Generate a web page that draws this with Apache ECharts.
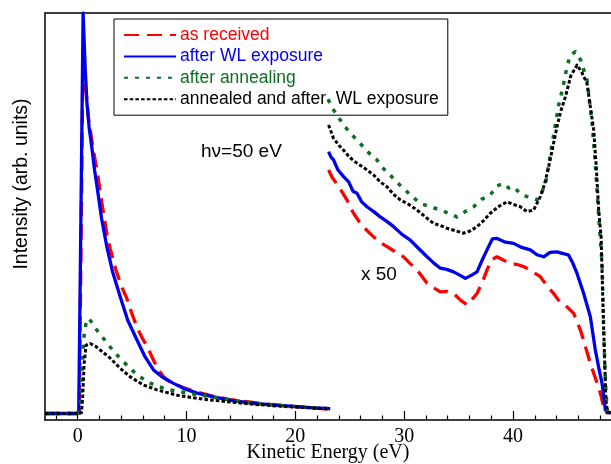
<!DOCTYPE html>
<html><head><meta charset="utf-8">
<script src="https://cdn.jsdelivr.net/npm/echarts@6/dist/echarts.min.js"></script>
<style>html,body{margin:0;padding:0;background:#fff}#c{width:611px;height:464px}</style>
</head><body><div id="c"></div>
<script>
// ---- data (energy eV, intensity arb. units; right-hand parts are the "x 50" magnified traces) ----
const majorTicks = [0, 10, 20, 30, 40];
const minorTicks = [-2, 2, 4, 6, 8, 12, 14, 16, 18, 22, 24, 26, 28, 32, 34, 36, 38, 42, 44, 46, 48];
const names = ['as received', 'after WL exposure', 'after annealing', 'annealed and after  WL exposure'];

const asReceived = [[-3,1.6],[0.0,1.6],[0.15,2.5],[0.3,40],[0.45,80],[0.55,86],[0.7,83],[1.0,74],[1.4,67],[1.8,61],[2.3,52],[2.7,45.5],[3.0,42],[3.5,37],[4.0,33],[4.5,30],[5.0,26],[5.5,22.5],[6.0,19.8],[6.4,18],[7.0,14.5],[7.5,12],[7.9,10.6],[8.5,9.3],[9.7,8.0],[11,6.8],[12.5,5.8],[14,5.0],[15.5,4.5],[17,4.0],[18.5,3.6],[20,3.3],[21.5,3.0],[23.2,2.6]];
const asReceivedX50 = [[23.05,61.4],[23.4,59.5],[23.8,58.1],[24.3,56],[24.74,54.1],[25.3,51],[25.97,48.3],[26.6,46.5],[27.19,45.0],[27.8,43.6],[28.42,42.6],[29.2,41.3],[29.94,40.1],[30.6,38.3],[31.18,36.9],[32.1,33.6],[32.7,32.5],[33.32,31.5],[33.9,31.6],[34.54,31.1],[35.2,29.4],[35.77,28.3],[36.2,29.5],[36.69,31.1],[37.2,34],[37.61,36.9],[38.1,39.5],[38.53,40.1],[39.1,39.3],[39.75,38.5],[40.4,38.2],[40.97,37.7],[41.7,36.6],[42.51,35.2],[43.1,33],[43.73,31.1],[44.3,29],[44.96,27.8],[45.57,26.2],[46.19,22.1],[46.6,18.5],[47.1,13.9],[47.6,10],[48.02,6.6],[48.39,2.5],[48.6,1.8],[49,1.8]];

const afterWL = [[-3,1.6],[0.0,1.6],[0.1,2.2],[0.3,50],[0.5,100],[0.7,86],[0.85,78],[1.05,72],[1.3,67],[1.55,61.5],[1.8,57],[2.2,49.5],[2.68,42.6],[3.2,36.5],[3.91,30.3],[4.6,24.5],[5.44,19.7],[6.2,15.5],[6.97,12.3],[7.8,10.5],[8.81,9.0],[9.8,7.7],[10.96,6.6],[12.5,5.7],[14.02,4.9],[15.5,4.3],[17.08,3.9],[18.6,3.6],[20.15,3.3],[21.7,3.0],[23.2,2.8]];
const afterWLX50 = [[23.05,65.9],[23.3,64.5],[23.51,63.9],[23.9,61.5],[24.43,59.8],[24.9,58.5],[25.3,56.2],[25.66,55.7],[26.1,53.6],[26.58,52.4],[27.2,51.2],[27.8,49.9],[28.4,48.8],[29.03,47.5],[29.8,45.6],[30.56,44.2],[31.3,42.2],[32.1,40.1],[32.7,38.6],[33.32,37.3],[33.9,37.0],[34.54,36.4],[35.1,35.6],[35.62,34.8],[36.2,35.6],[36.69,36.4],[37.2,39.5],[37.61,41.8],[38.1,44.5],[38.53,44.6],[39.3,43.7],[40.06,43.4],[40.8,42.4],[41.59,41.8],[42.2,40.6],[42.81,40.1],[43.4,41.2],[44.04,41.3],[44.6,40.9],[45.11,40.5],[45.5,38.5],[45.88,36],[46.49,31.1],[47.1,25.4],[47.56,17.2],[47.9,12.5],[48.18,9],[48.48,2.5],[48.7,1.8],[49,1.8]];

const afterAnneal = [[-3,1.6],[0.0,1.6],[0.25,2],[0.4,12],[0.55,20],[0.75,23.5],[1.0,25],[1.35,23.8],[1.76,22.1],[2.62,19.2],[3.45,16.4],[4.37,13.9],[5.29,11.5],[6.36,9.4],[7.43,8.2],[8.5,7.4],[9.7,6.8],[11,6.2],[12.5,5.6],[14,4.9],[15.5,4.4],[17,3.9],[18.5,3.6],[20,3.3],[21.5,3.0],[23.2,2.8]];
const afterAnnealX50 = [[23.0,78.8],[23.51,76.2],[24.0,74.2],[24.43,72.5],[25.1,70.3],[25.81,68.4],[26.6,66.0],[27.5,63.9],[28.0,62.0],[28.57,60.6],[29.3,58.5],[29.94,56.9],[30.7,55.0],[31.48,53.2],[32.4,52.4],[33.32,51.6],[34.1,50.8],[34.85,49.9],[35.6,51.2],[36.38,52.4],[37.1,54.2],[37.91,55.3],[38.5,57.5],[39.14,58.1],[39.6,57.0],[40.06,57.3],[40.7,55.5],[41.29,54.9],[41.8,54.5],[42.21,54.1],[42.6,55.5],[43.05,59],[43.6,68],[44.2,77.5],[44.6,82],[44.96,86.8],[45.27,89.7],[45.73,90.5],[46.2,88.5],[46.8,83.5],[47.26,72.9],[47.56,63],[47.87,50],[48.18,38.5],[48.33,22],[48.48,9.8],[48.64,2.5],[48.8,1.8],[49,1.8]];

const annealWL = [[-3,1.6],[0.0,1.6],[0.35,1.8],[0.45,5],[0.6,14],[0.78,18.4],[1.15,18.8],[1.6,18.2],[2.07,17.2],[2.99,15.2],[3.91,12.7],[4.83,10.6],[6.05,8.6],[7.28,7.4],[9.12,6.1],[10.3,5.6],[11.56,5.1],[13,4.7],[14.5,4.3],[16,3.9],[17.5,3.6],[19,3.3],[20.5,3.1],[22,2.9],[23.2,2.7]];
const annealWLX50 = [[23.05,72.5],[23.51,69.2],[24.0,67.5],[24.43,66.3],[25.0,64.5],[25.66,63.1],[26.4,61.8],[27.19,60.2],[27.8,58.5],[28.42,57.3],[29.0,55.5],[29.64,54.1],[30.4,53.0],[31.18,51.6],[31.9,50.0],[32.7,48.3],[33.3,47.8],[33.93,47.1],[34.7,46.5],[35.46,45.9],[36.1,46.5],[36.69,47.5],[37.3,49.0],[37.91,50.8],[38.7,52.5],[39.45,53.6],[40.0,53.0],[40.67,52.4],[41.3,51.2],[41.89,51.6],[42.51,54.9],[42.9,58],[43.27,62.2],[43.65,67],[44.04,72.1],[44.4,76],[44.81,79.4],[45.3,84.5],[45.88,87.2],[46.3,85.5],[46.8,82.7],[47.1,77],[47.41,71.3],[47.65,62],[47.87,51.6],[48.09,45],[48.33,22],[48.53,5],[48.67,2],[49,1.8]];

// ---- styles ----
const RED = '#ff0000', BLUE = '#0000ee', GREEN = '#0e6e22', BLACK = '#000000';
const SANS = 'Liberation Sans, Arial, sans-serif';
const SERIF = 'Liberation Serif, Times New Roman, serif';

function mk(name, data, color, type, width) {
  return { name, type: 'line', data, showSymbol: false, symbol: 'none', animation: false,
    lineStyle: { color, width, type, cap: 'butt', join: 'round' }, itemStyle: { color }, z: 2 };
}

const chart = echarts.init(document.getElementById('c'), null, { renderer: 'canvas' });
chart.setOption({
  animation: false,
  grid: { left: 45, right: 0, top: 13, bottom: 44, containLabel: false, outerBoundsMode: 'none' },
  legend: {
    left: 114, top: 19, orient: 'vertical', selectedMode: false,
    padding: [7, 9, 7, 9], itemGap: 3.4, itemWidth: 52, itemHeight: 18,
    borderColor: '#000', borderWidth: 1, backgroundColor: 'transparent',
    itemStyle: { opacity: 0 },
    textStyle: { fontFamily: SANS, fontSize: 17.5, lineHeight: 18, padding: [0, 0, 0, -1] },
    data: [
      { name: names[0], textStyle: { color: RED } },
      { name: names[1], textStyle: { color: BLUE } },
      { name: names[2], textStyle: { color: GREEN } },
      { name: names[3], textStyle: { color: BLACK } }
    ]
  },
  xAxis: [
    { type: 'value', min: -3, max: 49, position: 'bottom',
      axisLine: { show: true, onZero: false, lineStyle: { color: '#000', width: 1.5 } },
      axisTick: { show: true, inside: true, length: 9, customValues: majorTicks, lineStyle: { color: '#000', width: 1.2 } },
      axisLabel: { show: true, customValues: majorTicks, fontFamily: SERIF, fontSize: 20, color: '#000', margin: 7 },
      splitLine: { show: false },
      name: 'Kinetic Energy (eV)', nameLocation: 'middle', nameGap: 23, nameMoveOverlap: false,
      nameTextStyle: { fontFamily: SERIF, fontSize: 20, color: '#000' } },
    { type: 'value', min: -3, max: 49, position: 'bottom', offset: 0,
      axisLine: { show: false, onZero: false },
      axisTick: { show: true, inside: true, length: 4.5, customValues: minorTicks, lineStyle: { color: '#000', width: 1.2 } },
      axisLabel: { show: false }, splitLine: { show: false } },
    { type: 'value', min: -3, max: 49, position: 'top',
      axisLine: { show: true, onZero: false, lineStyle: { color: '#000', width: 1.5 } },
      axisTick: { show: false }, axisLabel: { show: false }, splitLine: { show: false } }
  ],
  yAxis: { type: 'value', min: 0, max: 100, position: 'left',
    axisLine: { show: true, onZero: false, lineStyle: { color: '#000', width: 1.5 } },
    axisTick: { show: false }, axisLabel: { show: false }, splitLine: { show: false } },
  series: [
    mk(names[0], asReceived, RED, [15, 8], 3.3),
    mk(names[0], asReceivedX50, RED, [15, 8], 3.3),
    mk(names[1], afterWL, BLUE, 'solid', 3.3),
    mk(names[1], afterWLX50, BLUE, 'solid', 3.3),
    mk(names[2], afterAnneal, GREEN, [4, 7], 3.5),
    mk(names[2], afterAnnealX50, GREEN, [4, 7], 3.5),
    mk(names[3], annealWL, BLACK, [3.5, 2.2], 3),
    mk(names[3], annealWLX50, BLACK, [3.5, 2.2], 3)
  ],
  graphic: [
    { type: 'text', x: 21.5, y: 184, rotation: Math.PI / 2,
      style: { text: 'Intensity (arb. units)', fontFamily: SANS, fontSize: 19.5, fill: '#000', align: 'center', verticalAlign: 'middle' } },
    { type: 'text', x: 201, y: 152,
      style: { text: 'hν=50 eV', fontFamily: SANS, fontSize: 19, fill: '#000', align: 'left', verticalAlign: 'middle' } },
    { type: 'text', x: 361, y: 275,
      style: { text: 'x 50', fontFamily: SANS, fontSize: 19, fill: '#000', align: 'left', verticalAlign: 'middle' } }
  ]
});
</script></body></html>
